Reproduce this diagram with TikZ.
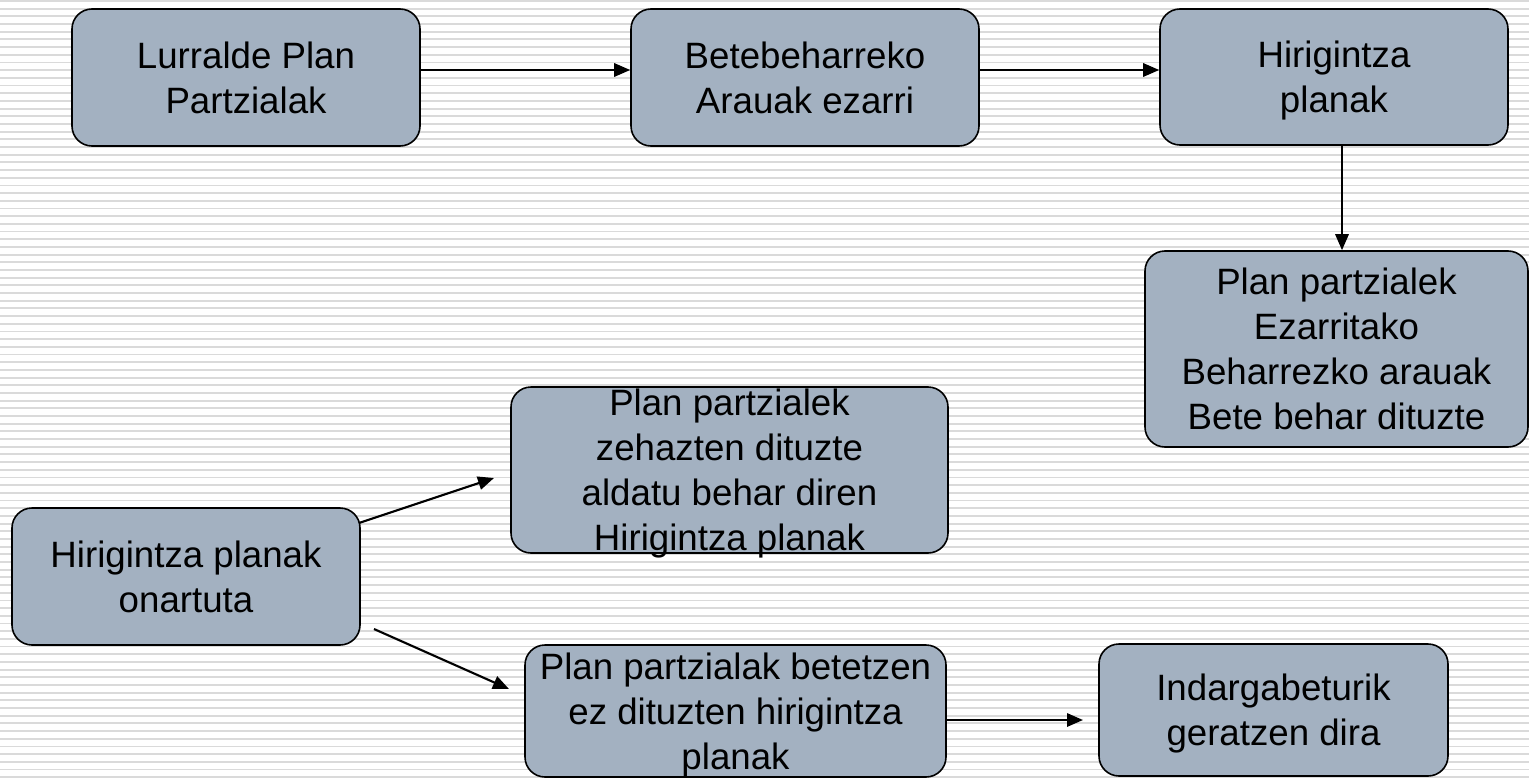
\documentclass[tikz,border=0pt]{standalone}
\usepackage{fontspec}
\setmainfont{Liberation Sans}
\usetikzlibrary{arrows.meta}
\definecolor{boxfill}{RGB}{163,177,193}
\definecolor{bglinecol}{RGB}{218,218,218}
\tikzset{
  diagbox/.style={draw=black, line width=1.2pt, fill=boxfill, rounded corners=15pt, inner sep=0pt},
  txt/.style={align=center, inner sep=0pt, text depth=0pt, font=\fontsize{27.5pt}{33.75pt}\selectfont},
  arr/.style={draw=black, line width=1.6pt, -{Triangle[length=12pt,width=10pt]}},
  bgline/.style={draw=bglinecol, line width=1.4pt}
}
\begin{document}
\begin{tikzpicture}[x=0.75pt,y=-0.75pt]
\useasboundingbox (0,0) rectangle (1529,778);
\fill[white] (0,0) rectangle (1529,778);
\foreach \k in {0,...,101} {
  \draw[bgline] (0,{1+\k*7.685}) -- (1529,{1+\k*7.685});
}
% boxes
\node[diagbox, minimum width={348*0.75pt}, minimum height={137*0.75pt}] (A) at (246,77.5) {};
\node[txt] (At) at (A.center) {Lurralde Plan\\Partzialak};
\node[diagbox, minimum width={348*0.75pt}, minimum height={137*0.75pt}] (B) at (805,77.5) {};
\node[txt] (Bt) at (B.center) {Betebeharreko\\Arauak ezarri};
\node[diagbox, minimum width={348*0.75pt}, minimum height={136*0.75pt}] (C) at (1334,77) {};
\node[txt] (Ct) at (C.center) {Hirigintza\\planak};
\node[diagbox, minimum width={383*0.75pt}, minimum height={196*0.75pt}] (D) at (1336.5,349) {};
\node[txt] (Dt) at (D.center) {Plan partzialek\\Ezarritako\\Beharrezko arauak\\Bete behar dituzte};
\node[diagbox, minimum width={437*0.75pt}, minimum height={166*0.75pt}] (E) at (729.5,470) {};
\node[txt] (Et) at (E.center) {Plan partzialek\\zehazten dituzte\\aldatu behar diren\\Hirigintza planak};
\node[diagbox, minimum width={348*0.75pt}, minimum height={137*0.75pt}] (F) at (186,576.5) {};
\node[txt] (Ft) at (F.center) {Hirigintza planak\\onartuta};
\node[diagbox, minimum width={421*0.75pt}, minimum height={132*0.75pt}] (G) at (735.5,711) {};
\node[txt] (Gt) at (G.center) {Plan partzialak betetzen\\ez dituzten hirigintza\\planak};
\node[diagbox, minimum width={349*0.75pt}, minimum height={132*0.75pt}] (H) at (1273.5,710) {};
\node[txt] (Ht) at (H.center) {Indargabeturik\\geratzen dira};
% free ends
\coordinate (f1s) at (359,523);
\coordinate (f1e) at (494,478);
\coordinate (f2s) at (374,629);
\coordinate (f2e) at (509,689);
\coordinate (ghe) at (1083,720);
% connectors
\draw[arr] (A.east |- 0,70) -- (B.west |- 0,70);
\draw[arr] (B.east |- 0,70) -- (C.west |- 0,70);
\draw[arr] (C.south -| 1342,0) -- (D.north -| 1342,0);
\draw[arr] (f1s) -- (f1e);
\draw[arr] (f2s) -- (f2e);
\draw[arr] (G.east |- 0,720) -- (ghe);
\end{tikzpicture}
\end{document}
